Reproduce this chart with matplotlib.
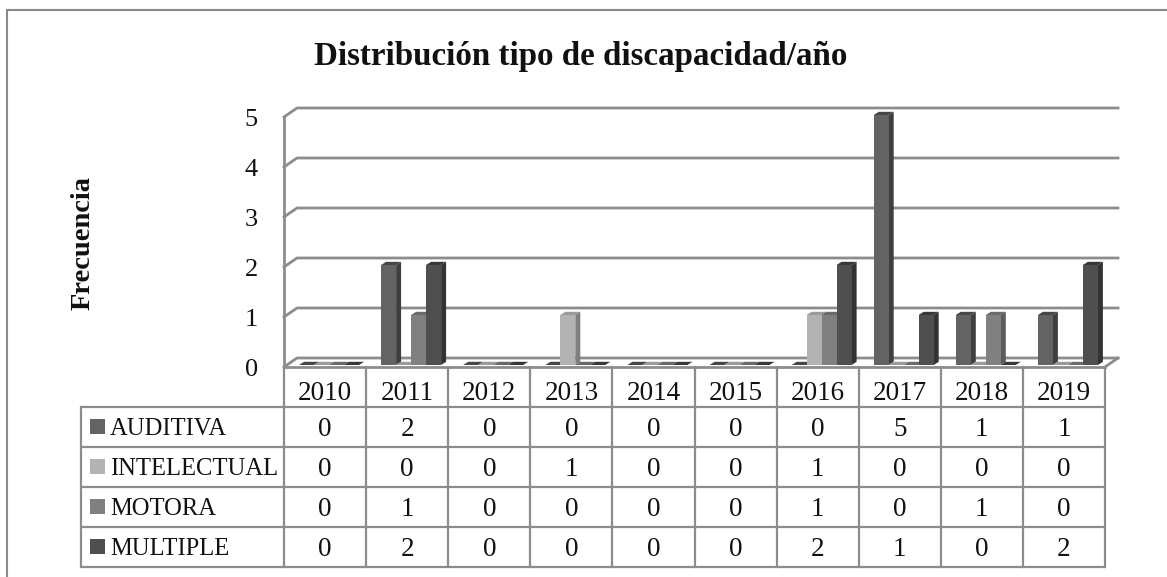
import matplotlib
matplotlib.use("Agg")
import matplotlib.pyplot as plt
from matplotlib.patches import Polygon, Rectangle

years = ["2010", "2011", "2012", "2013", "2014", "2015", "2016", "2017", "2018", "2019"]
series_names = ["AUDITIVA", "INTELECTUAL", "MOTORA", "MULTIPLE"]
auditiva = [0, 2, 0, 0, 0, 0, 0, 5, 1, 1]
intelectual = [0, 0, 0, 1, 0, 0, 1, 0, 0, 0]
motora = [0, 1, 0, 0, 0, 0, 1, 0, 1, 0]
multiple = [0, 2, 0, 0, 0, 0, 2, 1, 0, 2]
y_ticks = [0, 1, 2, 3, 4, 5]
title_text = "Distribución tipo de discapacidad/año"
y_title = "Frecuencia"

series = [auditiva, intelectual, motora, multiple]
front = ["#636363", "#b3b3b3", "#808080", "#4f4f4f"]
side = ["#3f3f3f", "#7f7f7f", "#5c5c5c", "#333333"]
top = ["#474747", "#9a9a9a", "#6a6a6a", "#383838"]
LINE = "#8c8c8c"
FONT = ["Liberation Serif", "DejaVu Serif"]
plt.rcParams["font.family"] = FONT

W, H = 1167, 577
fig = plt.figure(figsize=(W / 100, H / 100), dpi=100, facecolor="white")


def fx(px):
    return px / W


def fy(px):
    return 1 - px / H


# page-level overlay in pixel coordinates
bg = fig.add_axes([0, 0, 1, 1])
bg.set_xlim(0, W)
bg.set_ylim(H, 0)
bg.axis("off")

# chart frame (only the left and top edges fall inside the picture)
bg.plot([6.5, 6.5, W], [H, 10, 10], color="#8a8a8a", lw=1.5, solid_joinstyle="miter")

# plot axes: x in category units, y in value units
L, R, Y0, Y5 = 284, 1105, 365, 115
ax = fig.add_axes([fx(L), fy(Y0), fx(R - L), (Y0 - Y5) / H])
ax.set_xlim(0, len(years))
ax.set_ylim(0, 5)
ax.axis("off")
ux = (R - L) / len(years)
uy = (Y0 - Y5) / 5
wall_dx, wall_dy = 13 / ux, 9 / uy
base_drop = 2 / uy

for v in y_ticks:
    yf = v - base_drop if v == 0 else v - 0.04
    ax.plot([0, wall_dx, len(years) + wall_dx], [yf, yf + wall_dy, yf + wall_dy],
            color=LINE, lw=2, clip_on=False, zorder=1, solid_joinstyle="miter")
    ax.text(-26 / ux, v - 5 / uy, str(v), ha="right", va="center", fontsize=19, color="#111111", clip_on=False)
ax.plot([0, 0], [-base_drop, 5 - 0.04], color=LINE, lw=2, clip_on=False, zorder=1)
ax.plot([len(years), len(years) + wall_dx], [-base_drop, -base_drop + wall_dy], color=LINE, lw=2,
        clip_on=False, zorder=1)
ax.plot([0, len(years)], [-base_drop, -base_drop], color=LINE, lw=2, clip_on=False, zorder=1)

# 3-D looking bars
bar_w = 15 / ux
start = 15 / ux
dx, dy = 5 / ux, 3.2 / uy
for s, vals in enumerate(series):
    for i, v in enumerate(vals):
        x0 = i + start + s * bar_w
        x1 = x0 + bar_w
        ax.add_patch(Polygon([(x0, v), (x0 + dx, v + dy), (x1 + dx, v + dy), (x1, v)],
                             fc=top[s], ec="none", clip_on=False, zorder=3 + s))
        if v > 0:
            ax.add_patch(Polygon([(x1, 0), (x1 + dx, dy), (x1 + dx, v + dy), (x1, v)],
                                 fc=side[s], ec="none", clip_on=False, zorder=3 + s))
            ax.add_patch(Rectangle((x0, 0), bar_w, v, fc=front[s], ec="none", clip_on=False, zorder=3 + s))

# data table
TL = 81
header_top, row_tops = 367, [407, 447, 487, 527, 567]
col_x = [L + (R - L) * i / len(years) for i in range(len(years) + 1)]
for yy in row_tops:
    bg.plot([TL, R], [yy, yy], color=LINE, lw=1.6, solid_capstyle="butt")
bg.plot([TL, TL], [row_tops[0], row_tops[-1]], color=LINE, lw=1.6)
for i, xx in enumerate(col_x):
    bg.plot([xx, xx], [header_top, row_tops[-1]], color=LINE, lw=1.6)
for i, y in enumerate(years):
    bg.text((col_x[i] + col_x[i + 1]) / 2, 394, y, ha="center", va="center", fontsize=19.5, color="#111111")
for r, name in enumerate(series_names):
    cy = (row_tops[r] + row_tops[r + 1]) / 2
    bg.add_patch(Rectangle((90, cy - 8), 15, 15, fc=front[r], ec="none"))
    bg.text(110, cy + 2, name, ha="left", va="center", fontsize=17.7, color="#111111")
    for i, v in enumerate(series[r]):
        bg.text((col_x[i] + col_x[i + 1]) / 2, cy + 3, str(v), ha="center", va="center",
                fontsize=19.5, color="#111111")

bg.text(581, 56, title_text, ha="center", va="center", fontsize=23.8, fontweight="bold", color="#111111")
bg.text(83.5, 242.5, y_title, ha="center", va="center", rotation=90, fontsize=20.5, fontweight="bold", color="#111111")

fig.savefig("out.png", dpi=100, facecolor="white")
